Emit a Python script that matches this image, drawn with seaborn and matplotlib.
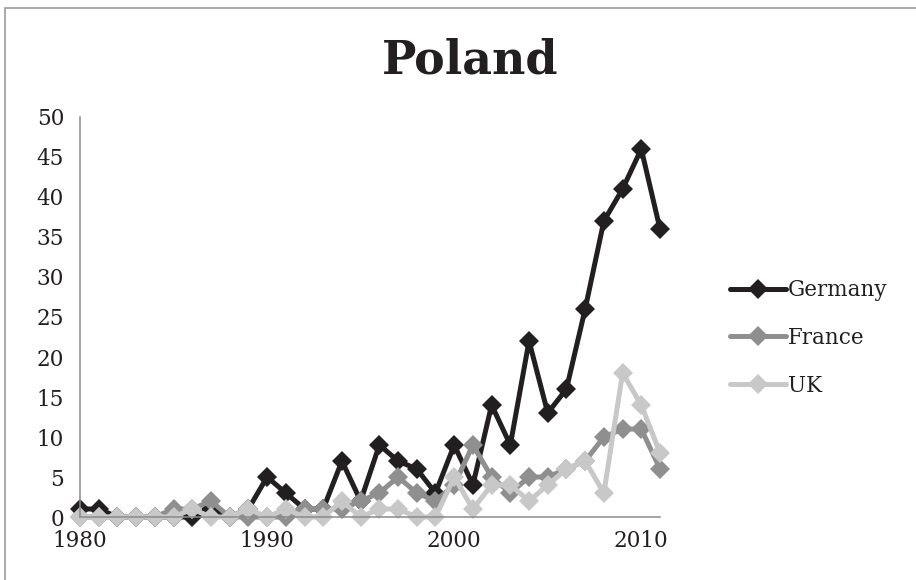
import matplotlib
matplotlib.use("Agg")
import matplotlib.pyplot as plt
import matplotlib.patches as mpatches
import seaborn as sns
import pandas as pd

years = list(range(1980, 2012))
germany = [1, 1, 0, 0, 0, 0, 0, 1, 0, 1, 5, 3, 1, 1, 7, 2, 9, 7, 6, 3,
           9, 4, 14, 9, 22, 13, 16, 26, 37, 41, 46, 36]
france = [0, 0, 0, 0, 0, 1, 1, 2, 0, 0, 0, 0, 1, 1, 1, 2, 3, 5, 3, 2,
          4, 9, 5, 3, 5, 5, 6, 7, 10, 11, 11, 6]
uk = [0, 0, 0, 0, 0, 0, 1, 0, 0, 1, 0, 1, 0, 0, 2, 0, 1, 1, 0, 0,
      5, 1, 4, 4, 2, 4, 6, 7, 3, 18, 14, 8]
countries = ["Germany", "France", "UK"]
colors = ["#231f20", "#8f8f8f", "#c8c8c8"]
xticks = [1980, 1990, 2000, 2010]
yticks = list(range(0, 55, 5))
title = "Poland"

df = pd.concat([
    pd.DataFrame({"Year": years, "Value": vals, "Country": name})
    for name, vals in zip(countries, [germany, france, uk])
], ignore_index=True)

sns.set_theme(style="white")
plt.rcParams["font.family"] = ["DejaVu Serif"]

W, H = 916, 580
fig = plt.figure(figsize=(W / 100, H / 100), dpi=100)
ax = fig.add_axes([80 / W, (H - 517) / H, 580 / W, 400 / H])

# outer chart border
fig.patches.append(mpatches.Rectangle((5 / W, -0.05), 1.2, (H - 8) / H + 0.05,
                                      transform=fig.transFigure, fill=False,
                                      edgecolor="#9a9a9a", linewidth=1.2))

sns.lineplot(data=df, x="Year", y="Value", hue="Country", hue_order=countries,
             palette=colors, marker="D", markersize=10, markeredgewidth=0,
             linewidth=3.6, ax=ax, legend=True, clip_on=False)
for line in ax.get_lines():
    line.set_clip_on(False)

ax.set_xlim(1980, 2011)
ax.set_ylim(0, 50)
ax.set_xticks(xticks)
ax.set_yticks(yticks)
ax.set_xlabel("")
ax.set_ylabel("")
for s in ["top", "right"]:
    ax.spines[s].set_visible(False)
for s in ["left", "bottom"]:
    ax.spines[s].set_color("#8a8a8a")
    ax.spines[s].set_linewidth(1.1)
ax.tick_params(axis="both", which="major", direction="out", length=4.5,
               width=1.1, color="#8a8a8a", labelsize=15.5, labelcolor="#231f20")
ax.tick_params(axis="y", pad=7)
ax.tick_params(axis="x", pad=5)
ax.set_facecolor("white")
ax.grid(False)

handles, labels = ax.get_legend_handles_labels()
leg = ax.legend(handles, labels, loc="center left",
                bbox_to_anchor=(719 / W, 1 - 338 / H),
                bbox_transform=fig.transFigure, frameon=False,
                fontsize=15.5, handlelength=2.6, handletextpad=0.1,
                labelspacing=1.2, borderpad=0)
for t in leg.get_texts():
    t.set_color("#231f20")

fig.text(470 / W, 1 - 60 / H, title, ha="center", va="center",
         fontsize=33, fontweight="bold", color="#231f20")

fig.savefig("out.png", dpi=100, facecolor="white")
